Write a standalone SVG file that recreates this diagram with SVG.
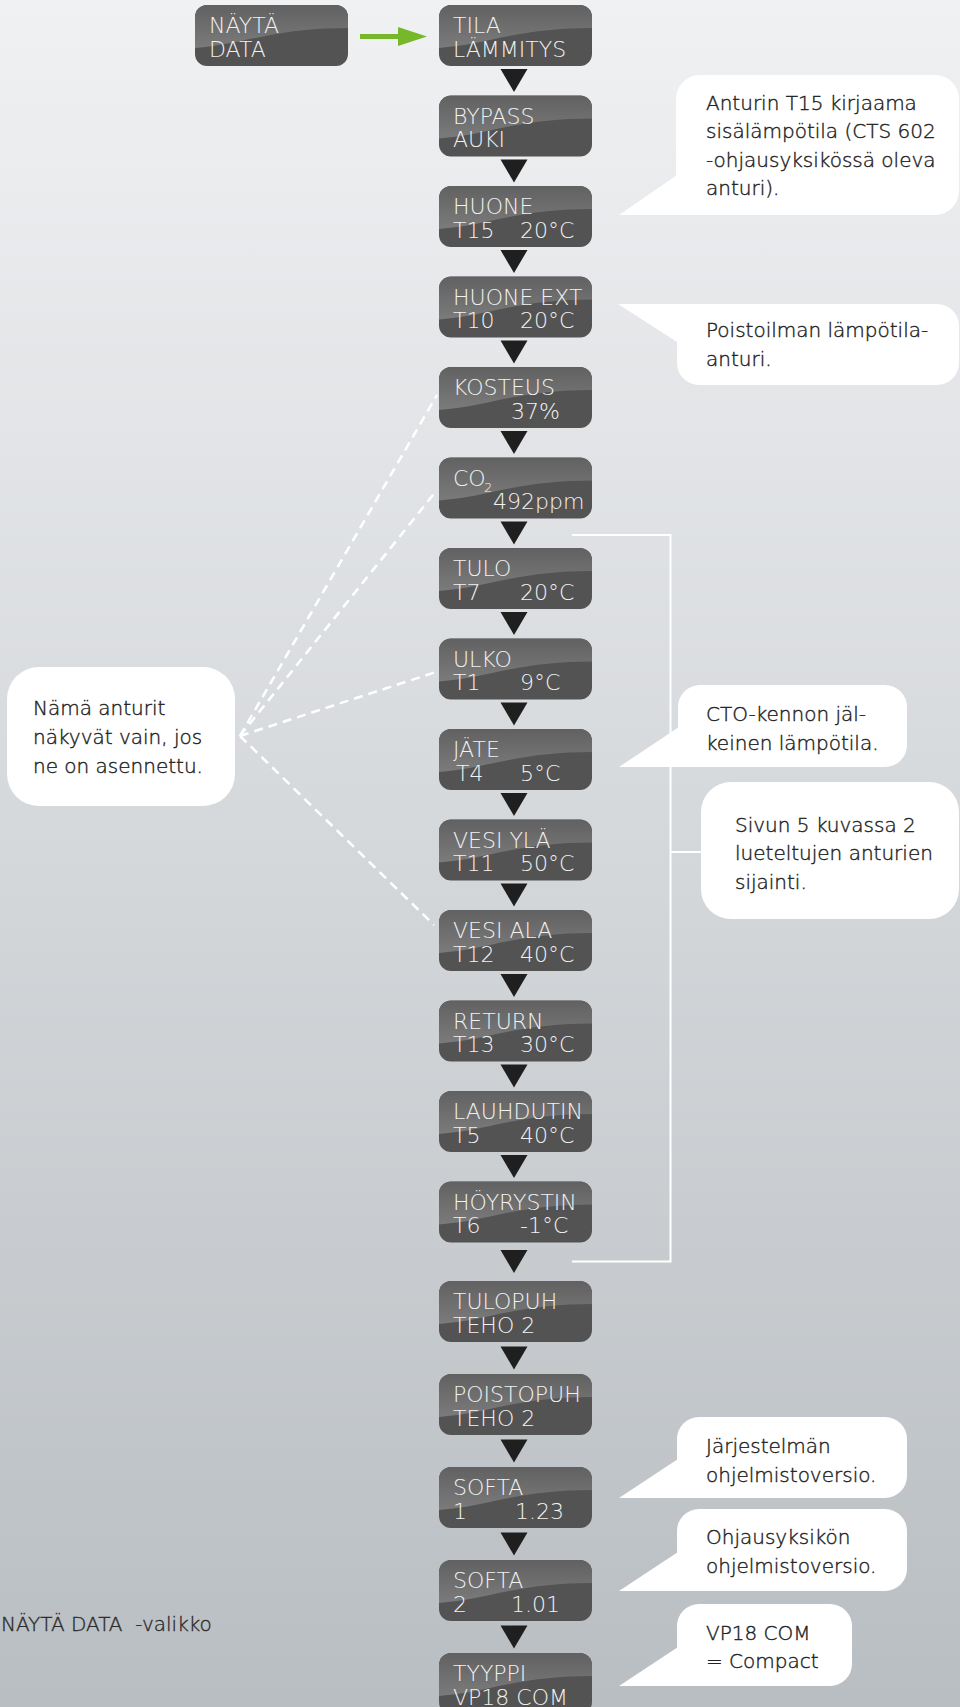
<svg xmlns="http://www.w3.org/2000/svg" xmlns:xlink="http://www.w3.org/1999/xlink" width="960" height="1707" viewBox="0 0 960 1707">
<style>
.bt{font-family:"DejaVu Sans","Liberation Sans",sans-serif;font-size:22px;font-weight:300;fill:#f2f2f2}
.sub{font-family:"DejaVu Sans","Liberation Sans",sans-serif;font-size:13px;font-weight:300;fill:#f2f2f2}
.ct{font-family:"DejaVu Sans","Liberation Sans",sans-serif;font-size:20px;font-weight:300;fill:#222;stroke:#222;stroke-width:0.4}
.cap{font-family:"DejaVu Sans","Liberation Sans",sans-serif;font-size:20px;font-weight:300;fill:#2a2a2a;stroke:#2a2a2a;stroke-width:0.35;white-space:pre}
.bub{fill:#ffffff}
.tri{fill:#1f1f1f}
.dash{fill:none;stroke:#ffffff;stroke-width:2.5;stroke-dasharray:9 6}
.br{fill:none;stroke:#ffffff;stroke-width:2}
</style>
<defs>
<linearGradient id="bg" x1="0" y1="0" x2="0" y2="1">
<stop offset="0" stop-color="#f0f1f3"/>
<stop offset="1" stop-color="#b9bec2"/>
</linearGradient>
<linearGradient id="gloss" x1="0" y1="0" x2="0" y2="1">
<stop offset="0" stop-color="#616161"/>
<stop offset="1" stop-color="#7b7b7b"/>
</linearGradient>
<clipPath id="bc"><rect width="153" height="61" rx="12"/></clipPath>
<g id="box">
<rect width="153" height="61" rx="12" fill="#535353"/>
<path clip-path="url(#bc)" d="M0,0 H153 V23 C120,23 95,26 70,31 C45,36 25,41 0,43 Z" fill="url(#gloss)"/>
</g>
</defs>
<rect width="960" height="1707" fill="url(#bg)"/>

<g id="connectors">
<line x1="360" y1="36.5" x2="400" y2="36.5" stroke="#76b82a" stroke-width="5"/>
<polygon points="398,27 427,36.5 398,46" fill="#76b82a"/>
<polygon class="tri" points="500.5,69 527.5,69 514,92"/>
<polygon class="tri" points="500.5,159.5 527.5,159.5 514,182.5"/>
<polygon class="tri" points="500.5,250 527.5,250 514,273"/>
<polygon class="tri" points="500.5,340.5 527.5,340.5 514,363.5"/>
<polygon class="tri" points="500.5,431 527.5,431 514,454"/>
<polygon class="tri" points="500.5,521.5 527.5,521.5 514,544.5"/>
<polygon class="tri" points="500.5,612 527.5,612 514,635"/>
<polygon class="tri" points="500.5,702.5 527.5,702.5 514,725.5"/>
<polygon class="tri" points="500.5,793 527.5,793 514,816"/>
<polygon class="tri" points="500.5,883.5 527.5,883.5 514,906.5"/>
<polygon class="tri" points="500.5,974 527.5,974 514,997"/>
<polygon class="tri" points="500.5,1064.5 527.5,1064.5 514,1087.5"/>
<polygon class="tri" points="500.5,1155 527.5,1155 514,1178"/>
<polygon class="tri" points="500.5,1250 527.5,1250 514,1273"/>
<polygon class="tri" points="500.5,1346.5 527.5,1346.5 514,1369.5"/>
<polygon class="tri" points="500.5,1439.5 527.5,1439.5 514,1462.5"/>
<polygon class="tri" points="500.5,1532.5 527.5,1532.5 514,1555.5"/>
<polygon class="tri" points="500.5,1625.5 527.5,1625.5 514,1648.5"/>
<line class="dash" x1="240" y1="736" x2="437" y2="395"/>
<line class="dash" x1="240" y1="736" x2="437" y2="490"/>
<line class="dash" x1="240" y1="736" x2="436" y2="672"/>
<line class="dash" x1="240" y1="736" x2="434" y2="925"/>
<polyline class="br" points="572,535 670.5,535 670.5,1261.5 572,1261.5"/>
<line class="br" x1="670.5" y1="852" x2="702" y2="852"/>
</g>

<g id="n-nayta" transform="translate(195,5)"><use xlink:href="#box"/><text class="bt" x="14" y="28">NÄYTÄ</text><text class="bt" x="14" y="51.5">DATA</text></g>
<g id="n-tila" transform="translate(439,5)"><use xlink:href="#box"/><text class="bt" x="14" y="28">TILA</text><text class="bt" x="14" y="51.5">LÄMMITYS</text></g>
<g id="n-bypass" transform="translate(439,95.5)"><use xlink:href="#box"/><text class="bt" x="14" y="28">BYPASS</text><text class="bt" x="14" y="51.5">AUKI</text></g>
<g id="n-huone" transform="translate(439,186)"><use xlink:href="#box"/><text class="bt" x="14" y="28">HUONE</text><text class="bt" x="14" y="51.5">T15</text><text class="bt" x="81" y="51.5">20°C</text></g>
<g id="n-huoneext" transform="translate(439,276.5)"><use xlink:href="#box"/><text class="bt" x="14" y="28">HUONE EXT</text><text class="bt" x="14" y="51.5">T10</text><text class="bt" x="81" y="51.5">20°C</text></g>
<g id="n-kosteus" transform="translate(439,367)"><use xlink:href="#box"/><text class="bt" x="14" y="28">KOSTEUS</text><text class="bt" x="72" y="51.5">37%</text></g>
<g id="n-co2" transform="translate(439,457.5)"><use xlink:href="#box"/><text class="bt" x="14" y="28">CO</text><text class="sub" x="45" y="34">2</text><text class="bt" x="54" y="51.5">492ppm</text></g>
<g id="n-tulo" transform="translate(439,548)"><use xlink:href="#box"/><text class="bt" x="14" y="28">TULO</text><text class="bt" x="14" y="51.5">T7</text><text class="bt" x="81" y="51.5">20°C</text></g>
<g id="n-ulko" transform="translate(439,638.5)"><use xlink:href="#box"/><text class="bt" x="14" y="28">ULKO</text><text class="bt" x="14" y="51.5">T1</text><text class="bt" x="81" y="51.5">9°C</text></g>
<g id="n-jate" transform="translate(439,729)"><use xlink:href="#box"/><text class="bt" x="14" y="28">JÄTE</text><text class="bt" x="17" y="51.5">T4</text><text class="bt" x="81" y="51.5">5°C</text></g>
<g id="n-vesiyla" transform="translate(439,819.5)"><use xlink:href="#box"/><text class="bt" x="14" y="28">VESI YLÄ</text><text class="bt" x="14" y="51.5">T11</text><text class="bt" x="81" y="51.5">50°C</text></g>
<g id="n-vesiala" transform="translate(439,910)"><use xlink:href="#box"/><text class="bt" x="14" y="28">VESI ALA</text><text class="bt" x="14" y="51.5">T12</text><text class="bt" x="81" y="51.5">40°C</text></g>
<g id="n-return" transform="translate(439,1000.5)"><use xlink:href="#box"/><text class="bt" x="14" y="28">RETURN</text><text class="bt" x="14" y="51.5">T13</text><text class="bt" x="81" y="51.5">30°C</text></g>
<g id="n-lauhdutin" transform="translate(439,1091)"><use xlink:href="#box"/><text class="bt" x="14" y="28">LAUHDUTIN</text><text class="bt" x="14" y="51.5">T5</text><text class="bt" x="81" y="51.5">40°C</text></g>
<g id="n-hoyrystin" transform="translate(439,1181.5)"><use xlink:href="#box"/><text class="bt" x="14" y="28">HÖYRYSTIN</text><text class="bt" x="14" y="51.5">T6</text><text class="bt" x="81" y="51.5">-1°C</text></g>
<g id="n-tulopuh" transform="translate(439,1281)"><use xlink:href="#box"/><text class="bt" x="14" y="28">TULOPUH</text><text class="bt" x="14" y="51.5">TEHO 2</text></g>
<g id="n-poistopuh" transform="translate(439,1374)"><use xlink:href="#box"/><text class="bt" x="14" y="28">POISTOPUH</text><text class="bt" x="14" y="51.5">TEHO 2</text></g>
<g id="n-softa1" transform="translate(439,1467)"><use xlink:href="#box"/><text class="bt" x="14" y="28">SOFTA</text><text class="bt" x="14" y="51.5">1</text><text class="bt" x="76" y="51.5">1.23</text></g>
<g id="n-softa2" transform="translate(439,1560)"><use xlink:href="#box"/><text class="bt" x="14" y="28">SOFTA</text><text class="bt" x="14" y="51.5">2</text><text class="bt" x="72" y="51.5">1.01</text></g>
<g id="n-tyyppi" transform="translate(439,1653)"><use xlink:href="#box"/><text class="bt" x="14" y="28">TYYPPI</text><text class="bt" x="14" y="51.5">VP18 COM</text></g>

<g id="c-huone">
<rect class="bub" x="676" y="75" width="283" height="140" rx="24"/>
<polygon class="bub" points="677,175 619,215 705,215"/>
<text class="ct" x="706" y="109.5">Anturin T15 kirjaama</text>
<text class="ct" x="706" y="138">sisälämpötila (CTS 602</text>
<text class="ct" x="706" y="166.5">-ohjausyksikössä oleva</text>
<text class="ct" x="706" y="195">anturi).</text>
</g>
<g id="c-poisto">
<rect class="bub" x="677" y="304" width="282" height="81" rx="22"/>
<polygon class="bub" points="618,304 705,304 677,342"/>
<text class="ct" x="706" y="337">Poistoilman lämpötila-</text>
<text class="ct" x="706" y="366">anturi.</text>
</g>
<g id="c-anturit">
<rect class="bub" x="7" y="667" width="228" height="139" rx="32"/>
<text class="ct" x="33" y="715">Nämä anturit</text>
<text class="ct" x="33" y="744">näkyvät vain, jos</text>
<text class="ct" x="33" y="773">ne on asennettu.</text>
</g>
<g id="c-cto">
<rect class="bub" x="678" y="685" width="229" height="82" rx="22"/>
<polygon class="bub" points="679,727 619,767 705,767"/>
<text class="ct" x="706" y="721">CTO-kennon jäl-</text>
<text class="ct" x="706" y="750">keinen lämpötila.</text>
</g>
<g id="c-sivun">
<rect class="bub" x="701" y="782" width="258" height="137" rx="30"/>
<text class="ct" x="735" y="832">Sivun 5 kuvassa 2</text>
<text class="ct" x="735" y="860">lueteltujen anturien</text>
<text class="ct" x="735" y="889">sijainti.</text>
</g>
<g id="c-softa1">
<rect class="bub" x="677" y="1417" width="230" height="81" rx="22"/>
<polygon class="bub" points="678,1459 619,1498 705,1498"/>
<text class="ct" x="706" y="1453">Järjestelmän</text>
<text class="ct" x="706" y="1482">ohjelmistoversio.</text>
</g>
<g id="c-softa2">
<rect class="bub" x="677" y="1509" width="230" height="82" rx="22"/>
<polygon class="bub" points="678,1552 619,1591 705,1591"/>
<text class="ct" x="706" y="1544">Ohjausyksikön</text>
<text class="ct" x="706" y="1573">ohjelmistoversio.</text>
</g>
<g id="c-tyyppi">
<rect class="bub" x="677" y="1604" width="175" height="82" rx="22"/>
<polygon class="bub" points="678,1647 619,1686 705,1686"/>
<text class="ct" x="706" y="1640">VP18 COM</text>
<text class="ct" x="706" y="1668">= Compact</text>
</g>
<text class="cap" x="1" y="1631">NÄYTÄ DATA  -valikko</text>
</svg>
